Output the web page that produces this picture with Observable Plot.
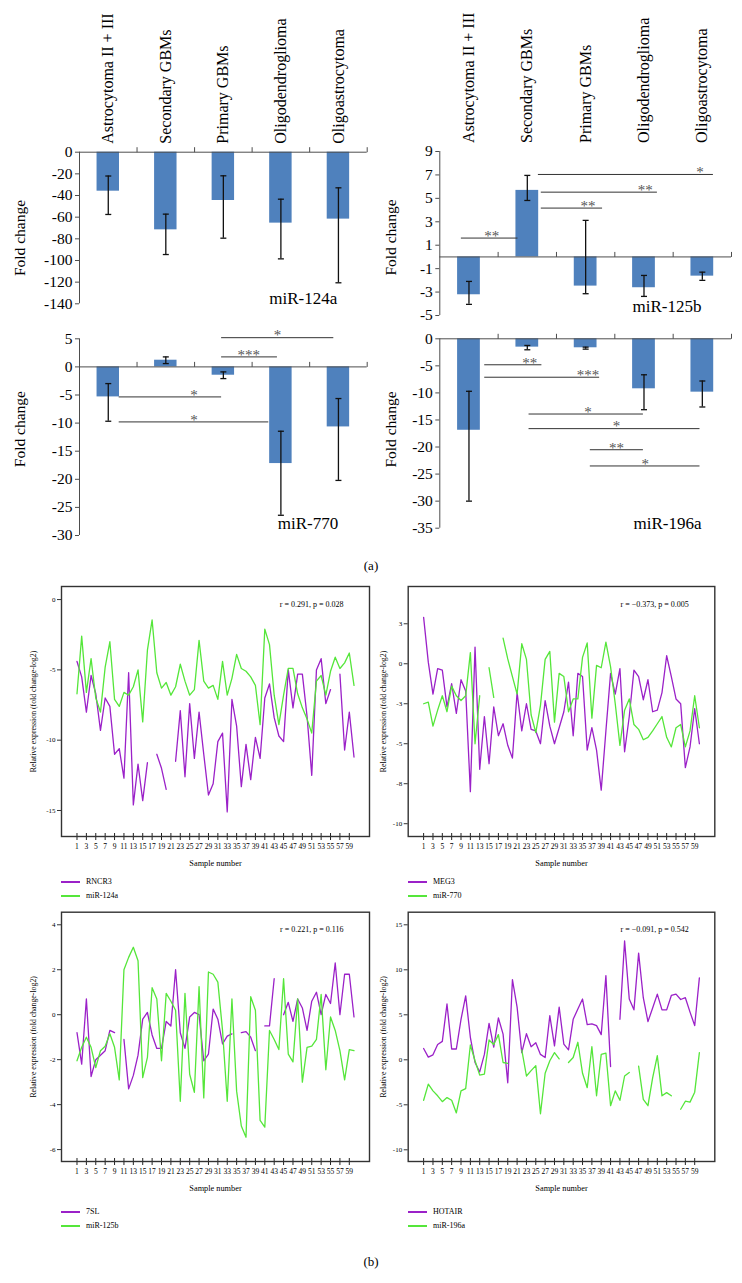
<!DOCTYPE html>
<html><head><meta charset="utf-8">
<script src="https://cdn.jsdelivr.net/npm/d3@7"></script>
<script src="https://cdn.jsdelivr.net/npm/@observablehq/plot@0.6"></script>
<style>
body{margin:0;background:#fff;}
#page{position:relative;width:742px;height:1283px;overflow:hidden;font-family:"Liberation Serif","Times New Roman",serif;color:#000;}
#page svg{overflow:visible;}
#page svg text{font-family:"Liberation Serif","Times New Roman",serif !important;font-variant-numeric:normal !important;}
.plab{position:absolute;font-size:13px;transform:translate(-50%,-50%);}
</style></head><body><div id="page"></div>
<script>
// ---------- Panel (a): bar charts ----------
const groups = ["Astrocytoma II + III","Secondary GBMs","Primary GBMs","Oligodendroglioma","Oligoastrocytoma"];

const fc124a   = [-36, -71.7, -44.6, -65.5, -61.8];
const fc124aLo = [-57.5, -94.5, -79.4, -98.5, -120.6];
const fc124aHi = [-22, -57.2, -21.8, -43.4, -32.9];
const ticks124a = [0,-20,-40,-60,-80,-100,-120,-140];

const fc125b   = [-3.23, 5.68, -2.49, -2.63, -1.64];
const fc125bLo = [-4.05, 4.82, -3.14, -3.37, -2.0];
const fc125bHi = [-2.09, 6.96, 3.12, -1.58, -1.3];
const ticks125b = [9,7,5,3,1,-1,-3,-5];
const sig125b = [
  {x1:-0.13, x2:0.84, y:1.61, lx:0.39, label:"**"},
  {x1:1.24, x2:2.29, y:4.17, lx:2.04, label:"**"},
  {x1:1.24, x2:3.23, y:5.53, lx:3.02, label:"**"},
  {x1:1.19, x2:4.19, y:7.04, lx:3.96, label:"*"}
];

const fc770   = [-5.34, 1.19, -1.48, -17.2, -10.68];
const fc770Lo = [-9.67, 0.59, -2.08, -26.4, -20.2];
const fc770Hi = [-2.97, 1.78, -0.89, -11.45, -5.63];
const ticks770 = [5,0,-5,-10,-15,-20,-25,-30];
const sig770 = [
  {x1:1.97, x2:3.92, y:5.2, lx:2.94, label:"*"},
  {x1:1.97, x2:2.94, y:1.78, lx:2.44, label:"***"},
  {x1:0.19, x2:1.97, y:-5.34, lx:1.49, label:"*"},
  {x1:0.19, x2:2.79, y:-9.79, lx:1.49, label:"*"}
];

const fc196a   = [-16.9, -1.54, -1.66, -9.24, -9.86];
const fc196aLo = [-30.0, -2.03, -1.91, -13.1, -12.6];
const fc196aHi = [-9.7, -1.23, -1.54, -6.65, -7.8];
const ticks196a = [0,-5,-10,-15,-20,-25,-30,-35];
const sig196a = [
  {x1:0.27, x2:1.25, y:-4.8, lx:1.04, label:"**"},
  {x1:0.27, x2:2.24, y:-7.1, lx:2.04, label:"***"},
  {x1:1.03, x2:2.99, y:-13.9, lx:2.04, label:"*"},
  {x1:1.03, x2:3.96, y:-16.6, lx:2.53, label:"*"},
  {x1:2.08, x2:2.99, y:-20.5, lx:2.53, label:"**"},
  {x1:2.08, x2:3.96, y:-23.5, lx:3.02, label:"*"}
];

// ---------- Panel (b): line charts ----------
const samples = d3.range(1, 61);
const sampleTicks = d3.range(1, 60, 2);

const rncr3 = [-4.4,-5.5,-8.0,-5.4,-6.7,-9.3,-7.0,-7.6,-11.0,-10.6,
 -12.7,-5.2,-14.6,-11.7,-14.3,-11.6,null,-11.0,-12.0,-13.5,
 null,-11.5,-7.9,-12.6,-7.4,-11.3,-8.0,-11.0,-13.9,-13.1,
 -10.1,-9.5,-15.1,-7.1,-9.0,-13.3,-10.3,-12.8,-9.8,-11.3,
 -7.0,-6.0,-8.4,-9.7,-10.1,-5.0,-7.7,-5.3,-5.3,-8.3,
 -12.5,-5.0,-4.2,-7.4,-6.4,null,-5.3,-10.7,-8.0,-11.2];
const mir124aExpr = [-6.7,-2.6,-6.6,-4.2,-7.0,-8.0,-4.8,-3.0,-7.1,-7.6,
 -6.6,-6.8,-6.2,-5.0,-8.7,-3.6,-1.45,-5.2,-6.3,-5.9,
 -6.8,-6.2,-4.6,-5.8,-6.8,-6.4,-2.9,-5.8,-6.3,-6.1,
 -7.1,-4.4,-6.8,-5.6,-3.9,-4.9,-5.1,-5.5,-6.1,-8.9,
 -2.1,-3.2,-6.8,-8.9,-6.8,-4.9,-4.9,-6.7,-7.7,-8.5,
 -9.5,-5.8,-5.4,-6.8,-5.1,-4.1,-4.9,-4.5,-3.8,-6.1];

const meg3 = [2.9,0.1,-1.9,-0.3,-0.4,-2.7,-1.25,-3.1,-1.0,-1.7,
 -8.0,1.04,-6.6,-3.3,-6.25,-2.7,-4.5,-3.75,-5.1,-5.9,
 -1.8,-4.2,-2.5,-4.1,-4.2,-5.0,-2.3,-3.9,-5.0,-4.0,
 -3.0,-1.15,-4.5,-0.6,-0.8,-5.4,-4.0,-5.4,-7.9,-4.2,
 -0.6,-1.9,-0.3,-5.5,-3.3,-0.4,-0.8,-2.25,-1.0,-3.0,
 -2.9,-1.8,0.5,-0.8,-2.2,-2.5,-6.5,-5.2,-2.8,-5.0];
const mir770Expr = [-2.5,-2.4,-3.9,-2.9,-2.0,-3.0,-1.4,-2.0,-2.3,-2.0,
 0.7,-5.0,-2.0,null,-0.25,-2.1,null,1.6,0.3,-0.8,
 -1.9,1.25,0.27,-3.2,-4.3,-2.6,0.27,0.77,-3.65,-0.6,
 -0.8,-3.0,-2.2,-2.2,0.4,1.3,-3.4,-0.1,-0.25,1.35,
 -0.2,-2.5,-5.1,-2.9,-2.2,-3.8,-4.1,-4.75,-4.6,-4.2,
 -3.75,-3.3,-4.6,-5.2,-4.0,-3.8,-5.2,-4.2,-2.0,-4.0];

const sl7 = [-0.8,-2.2,0.7,-2.75,-2.0,-1.8,-1.6,-0.7,-0.8,null,
 -1.1,-3.3,-2.7,-1.8,-0.2,0.1,-0.9,-1.5,-1.5,-0.3,
 -0.5,2.0,-0.8,-1.5,-0.1,0.1,0.0,-2.05,-1.75,0.25,
 -0.2,-1.3,-0.95,-0.85,null,-0.8,-0.75,-1.0,-1.6,null,
 -0.5,-0.5,1.6,null,0.0,0.55,-0.3,0.7,0.3,-0.7,
 0.6,1.0,0.0,0.9,0.5,2.3,0.0,1.8,1.8,-0.1];
const mir125bExpr = [-2.05,-1.45,-1.0,-1.45,-2.35,-1.6,-1.4,-0.85,-1.45,-2.9,
 2.0,2.55,3.0,2.4,-2.8,-1.9,1.2,0.7,-2.05,0.95,
 0.6,0.2,-3.85,0.95,-2.65,-3.45,1.25,-3.7,1.9,1.8,
 1.45,-0.7,-3.85,0.7,-3.4,-4.95,-5.45,0.8,0.2,-4.7,
 -5.0,-0.7,-1.1,-1.55,1.6,-1.75,-2.1,0.7,-3.0,-1.45,
 -1.4,-1.1,0.9,-2.45,-0.1,-0.7,-1.6,-2.9,-1.55,-1.6];

const hotair = [1.25,0.3,0.55,1.7,2.05,6.2,1.2,1.2,4.5,7.1,
 2.5,-0.3,-1.35,0.6,4.05,1.4,4.65,2.85,-2.55,8.9,
 5.85,0.8,2.9,1.45,1.9,0.6,0.25,4.9,1.55,5.85,
 1.75,1.1,4.5,5.65,6.75,3.9,4.0,3.8,2.8,9.35,
 -0.75,null,4.5,13.2,6.75,5.55,11.85,6.9,4.25,5.75,
 7.3,5.55,5.55,7.15,7.3,6.7,6.9,5.3,3.8,9.1];
const mir196aExpr = [-4.5,-2.7,-3.45,-4.0,-4.65,-4.2,-4.5,-5.9,-3.45,-3.2,
 1.65,-0.1,-1.7,-1.6,2.2,1.7,2.8,-0.3,-0.4,null,
 null,1.1,-1.8,-1.2,-0.65,-6.0,-1.5,-0.1,0.8,0.1,
 null,-0.3,0.25,1.95,-1.5,-3.1,1.45,-4.0,0.6,0.75,
 -5.1,-3.45,-4.5,-1.8,-1.4,null,-0.7,-4.4,-5.1,-2.0,
 0.45,-4.0,-3.65,-4.0,null,-5.5,-4.6,-4.7,-3.6,0.8];

// ---------- styles ----------
const barBlue = "#4f81bd";
const axisGray = "#4d4d4d";
const purple = "#9b21c8";
const green = "#55e63a";
const serif = "Liberation Serif, Times New Roman, serif";

const page = document.getElementById("page");
function place(node, left, top){
  node.style.position = "absolute";
  node.style.left = left + "px";
  node.style.top = top + "px";
  page.appendChild(node);
}
const tickUp = {draw(ctx){ ctx.moveTo(0,0); ctx.lineTo(0,-5); }};
const capH   = {draw(ctx){ ctx.moveTo(-3,0); ctx.lineTo(3,0); }};
const crossV = {draw(ctx){ ctx.moveTo(0,-3.5); ctx.lineTo(0,3.5); }};
const fmtNum = d => (d < 0 ? "-" : "") + Math.abs(d);
const boundaries = [0.5,1.5,2.5,3.5,4.5];

function barChart(c){
  const rows = groups.map((g,i)=>({i, g, v:c.values[i], lo:c.lo[i], hi:c.hi[i]}));
  const marks = [
    Plot.rectY(rows, {x1: d=>d.i-0.195, x2: d=>d.i+0.195, y1: 0, y2: "v", fill: barBlue}),
    Plot.ruleY([0], {stroke: axisGray, strokeWidth: 1}),
    Plot.ruleX([-0.5], {stroke: axisGray, strokeWidth: 1}),
    Plot.axisY(c.ticks, {tickSize: 4, tickPadding: 3, tickFormat: fmtNum, label: null, stroke: axisGray, fontSize: 15.5}),
    Plot.dot(boundaries, {x: d=>d, y: 0, symbol: tickUp, stroke: axisGray, fill: "none", strokeWidth: 1}),
    Plot.ruleX(rows, {x: "i", y1: "lo", y2: "hi", stroke: "#111", strokeWidth: 1.3}),
    Plot.dot(rows, {x: "i", y: "lo", symbol: capH, stroke: "#111", fill: "none", strokeWidth: 1.3}),
    Plot.dot(rows, {x: "i", y: "hi", symbol: capH, stroke: "#111", fill: "none", strokeWidth: 1.3}),
    Plot.ruleY(c.sig || [], {y: "y", x1: "x1", x2: "x2", stroke: "#333", strokeWidth: 1}),
    Plot.text(c.sig || [], {x: "lx", y: "y", text: "label", dy: -2, lineAnchor: "middle", fontSize: 15, fill: "#555"}),
    Plot.text([c.name], {frameAnchor: "bottom-right", textAnchor: "end", lineAnchor: "bottom", dx: c.nameDx, dy: c.nameDy, fontSize: 17}),
    Plot.text(["Fold change"], {frameAnchor: "left", rotate: -90, textAnchor: "middle", lineAnchor: "middle", dx: c.labDx, dy: c.labDy, fontSize: 15.5})
  ];
  if (c.showCats) marks.push(Plot.text(groups, {x: (d,i)=>i, frameAnchor: "top", rotate: -90, textAnchor: "start", lineAnchor: "middle", dy: -8.5, fontSize: 16}));
  const svg = Plot.plot({
    width: 371, height: c.height,
    marginLeft: c.ml, marginRight: c.mr, marginTop: c.mt, marginBottom: c.mb,
    x: {type: "linear", domain: [-0.5, 4.5], axis: null},
    y: {domain: c.domain, axis: null},
    style: {fontFamily: serif, fontSize: "15px", background: "transparent", color: "#000"},
    marks
  });
  place(svg, c.left, c.top);
}

barChart({values: fc124a, lo: fc124aLo, hi: fc124aHi, ticks: ticks124a, domain: [-140, 0], name: "miR-124a",
  showCats: true, left: 0, top: 0, height: 325, ml: 79, mr: 4.3, mt: 151.7, mb: 21.7,
  nameDx: -30, nameDy: 0, labDx: -59, labDy: 10});
barChart({values: fc125b, lo: fc125bLo, hi: fc125bHi, ticks: ticks125b, domain: [-5, 9], name: "miR-125b", sig: sig125b,
  showCats: true, left: 371, top: 0, height: 325, ml: 68.3, mr: 11, mt: 151, mb: 10,
  nameDx: -30, nameDy: -4, labDx: -48.3, labDy: 4});
barChart({values: fc770, lo: fc770Lo, hi: fc770Hi, ticks: ticks770, domain: [-30, 5], name: "miR-770", sig: sig770,
  showCats: false, left: 0, top: 325, height: 215, ml: 79, mr: 4.3, mt: 13.3, mb: 5,
  nameDx: -29, nameDy: -7, labDx: -59, labDy: -8});
barChart({values: fc196a, lo: fc196aLo, hi: fc196aHi, ticks: ticks196a, domain: [-35, 0], name: "miR-196a", sig: sig196a,
  showCats: false, left: 371, top: 325, height: 215, ml: 68.3, mr: 11, mt: 13.3, mb: 12.3,
  nameDx: -30, nameDy: 1, labDx: -48.3, labDy: -4});

function lineChart(c){
  const rows = samples.map((s,i)=>({sample: s, a: c.a[i], b: c.b[i]}));
  const svg = Plot.plot({
    width: 371, height: 295,
    marginLeft: c.ml, marginRight: c.mr, marginTop: c.mt, marginBottom: c.mb,
    x: {domain: [-2.3, 63.3]},
    y: {domain: c.domain},
    style: {fontFamily: serif, fontSize: "7px", background: "transparent", color: "#000"},
    marks: [
      Plot.axisY(c.ticks, {tickSize: 4, tickPadding: 2, tickFormat: c.fmt || fmtNum, label: null, stroke: "#333", fontSize: 7}),
      Plot.axisX(sampleTicks, {tickSize: 0, tickPadding: 7, label: null, fontSize: 7.5}),
      Plot.dot(sampleTicks, {x: d=>d, frameAnchor: "bottom", symbol: crossV, stroke: "#222", fill: "none", strokeWidth: 1}),
      Plot.line(rows, {x: "sample", y: "a", stroke: purple, strokeWidth: 1.3}),
      Plot.line(rows, {x: "sample", y: "b", stroke: green, strokeWidth: 1.3}),
      Plot.frame({stroke: "#333", strokeWidth: 1.4}),
      Plot.text([c.stat], {frameAnchor: "top-right", textAnchor: "end", lineAnchor: "middle", dx: -26, dy: c.statDy, fontSize: 8}),
      Plot.text(["Sample number"], {frameAnchor: "bottom", textAnchor: "middle", lineAnchor: "middle", dy: c.snDy, fontSize: 8.3}),
      Plot.text(["Relative expression (fold change-log2)"], {frameAnchor: "left", rotate: -90, textAnchor: "middle", lineAnchor: "middle", dx: c.labDx, fontSize: 7.8})
    ]
  });
  place(svg, c.left, c.top);
  // legend
  c.names.forEach((n,k)=>{
    const row = document.createElement("div");
    const top = Math.round(c.legTop + k*14.3);
    row.style.cssText = `position:absolute;left:${Math.round(c.legLeft)}px;top:${top}px;height:0;font-size:8px;`;
    const ln = document.createElement("span");
    ln.style.cssText = `position:absolute;left:0;top:-1px;width:19px;height:2px;background:${k===0?purple:green};`;
    const tx = document.createElement("span");
    tx.textContent = n;
    tx.style.cssText = "position:absolute;left:25px;top:-5px;line-height:10px;white-space:nowrap;";
    row.appendChild(ln); row.appendChild(tx);
    page.appendChild(row);
  });
}
const roundAway = d => d === 0 ? "0" : (d < 0 ? "-" : "") + Math.round(Math.abs(d));

lineChart({a: rncr3, b: mir124aExpr, names: ["RNCR3","miR-124a"], domain: [-16.85, 0.93], ticks: [0,-5,-10,-15],
  stat: "r = 0.291, p = 0.028", left: 0, top: 580, ml: 61, mr: 2, mt: 6, mb: 39, statDy: 18, snDy: 26.7, labDx: -28,
  legLeft: 61, legTop: 882});
lineChart({a: meg3, b: mir770Expr, names: ["MEG3","miR-770"], domain: [-10.8, 4.83], ticks: [2.5,0,-2.5,-5,-7.5,-10], fmt: roundAway,
  stat: "r = −0.373, p = 0.005", left: 371, top: 580, ml: 36.7, mr: 27.7, mt: 6, mb: 39, statDy: 18, snDy: 26.7, labDx: -24.4,
  legLeft: 408, legTop: 882});
lineChart({a: sl7, b: mir125bExpr, names: ["7SL","miR-125b"], domain: [-6.53, 4.56], ticks: [4,2,0,-2,-4,-6],
  stat: "r = 0.221, p = 0.116", left: 0, top: 905, ml: 61, mr: 2, mt: 6.7, mb: 39, statDy: 17.5, snDy: 27, labDx: -28,
  legLeft: 61, legTop: 1212});
lineChart({a: hotair, b: mir196aExpr, names: ["HOTAIR","miR-196a"], domain: [-11.3, 16.4], ticks: [15,10,5,0,-5,-10],
  stat: "r = −0.091, p = 0.542", left: 371, top: 905, ml: 36.7, mr: 27.7, mt: 6.7, mb: 39, statDy: 17.5, snDy: 27, labDx: -24.4,
  legLeft: 408, legTop: 1212});

// panel labels
[["(a)", 566], ["(b)", 1262]].forEach(([t, y])=>{
  const d = document.createElement("div");
  d.className = "plab"; d.textContent = t;
  d.style.left = "371px"; d.style.top = y + "px";
  page.appendChild(d);
});
</script></body></html>
